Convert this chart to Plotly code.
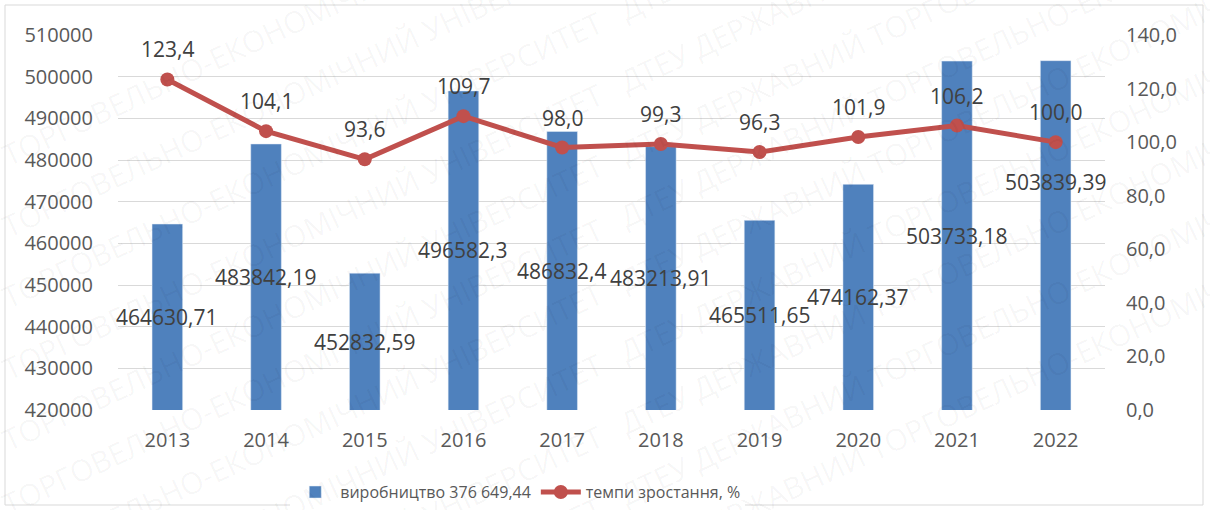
import plotly.graph_objects as go

# DATA
years = ["2013", "2014", "2015", "2016", "2017", "2018", "2019", "2020", "2021", "2022"]
production = [464630.71, 483842.19, 452832.59, 496582.3, 486832.4,
              483213.91, 465511.65, 474162.37, 503733.18, 503839.39]
growth = [123.4, 104.1, 93.6, 109.7, 98.0, 99.3, 96.3, 101.9, 106.2, 100.0]

bar_name = "виробництво 376 649,44"
line_name = "темпи зростання, %"
watermark = "ДТЕУ ДЕРЖАВНИЙ ТОРГОВЕЛЬНО-ЕКОНОМІЧНИЙ УНІВЕРСИТЕТ"

FONT = "Open Sans"
GREY = "#595959"
DARK = "#404040"
W, H = 1210, 510
L, R, T, B = 118, 105, 35, 100


def comma(s):
    return s.replace(".", ",")


fig = go.Figure()

fig.add_trace(go.Bar(
    x=years, y=production, name=bar_name,
    marker=dict(color="#4F81BD"), width=0.31,
))

fig.add_trace(go.Scatter(
    x=years, y=growth, name=line_name, yaxis="y2",
    mode="lines+markers",
    line=dict(color="#C0504D", width=5),
    marker=dict(color="#C0504D", size=14),
))

annotations = []
# numeric-looking categories -> annotations placed by category index
for i, (yr, v) in enumerate(zip(years, production)):
    # bar labels sit mid-bar (the 2022 one was nudged up in the original)
    mid = (420000 + v) / 2
    yshift = 53 if yr == "2022" else 0
    annotations.append(dict(
        x=i, y=mid, xref="x", yref="y", text=comma(str(v)),
        showarrow=False, yshift=yshift,
        font=dict(family=FONT, size=21, color=DARK),
    ))

for i, g in enumerate(growth):
    annotations.append(dict(
        x=i, y=g, xref="x", yref="y2", text=comma(f"{g:.1f}"),
        showarrow=False, yshift=30,
        font=dict(family=FONT, size=21, color=DARK),
    ))

# faint diagonal watermark
wm_line = watermark + "   " + watermark
for k in range(11):
    annotations.append(dict(
        x=0.5, y=-0.45 + k * 0.19, xref="paper", yref="paper", text=wm_line,
        showarrow=False, textangle=-25,
        font=dict(family=FONT, size=30, color="rgba(0,0,0,0.04)"),
    ))

fig.update_layout(
    width=W, height=H,
    margin=dict(l=L, r=R, t=T, b=B, autoexpand=False),
    paper_bgcolor="white", plot_bgcolor="white",
    separators=", ",
    font=dict(family=FONT, size=20, color=GREY),
    xaxis=dict(type="category", range=[-0.5, len(years) - 0.5], showgrid=False,
               ticks="outside", ticklen=12, tickcolor="rgba(0,0,0,0)",
               tickfont=dict(size=20, color=GREY), showline=False),
    yaxis=dict(range=[420000, 510000], dtick=10000, tickformat="d",
               gridcolor="#d9d9d9", gridwidth=1, zeroline=False,
               tickfont=dict(size=20, color=GREY), ticklen=20, ticks="outside",
               tickcolor="rgba(0,0,0,0)"),
    yaxis2=dict(range=[0, 140], dtick=20, tickformat=".1f", overlaying="y",
                side="right", showgrid=False, zeroline=False,
                tickfont=dict(size=20, color=GREY), ticks="outside",
                ticklen=16, tickcolor="rgba(0,0,0,0)"),
    legend=dict(orientation="h", x=0.405, xanchor="center", y=-0.219,
                yanchor="middle", font=dict(size=16, color=GREY), itemwidth=40),
    annotations=annotations,
    showlegend=True,
)

# thin outer border of the chart frame
pw, ph = W - L - R, H - T - B
fig.add_shape(type="rect", xref="paper", yref="paper",
              x0=(5 - L) / pw, x1=(1203 - L) / pw,
              y0=-(505 - T - ph) / ph, y1=1 + (T - 5) / ph,
              line=dict(color="#d9d9d9", width=1))

# drop the default page margin so the chart sits at the window's corner
fig.write_html("out.html", config={"displayModeBar": False},
               post_script="document.body.style.margin='0';")
